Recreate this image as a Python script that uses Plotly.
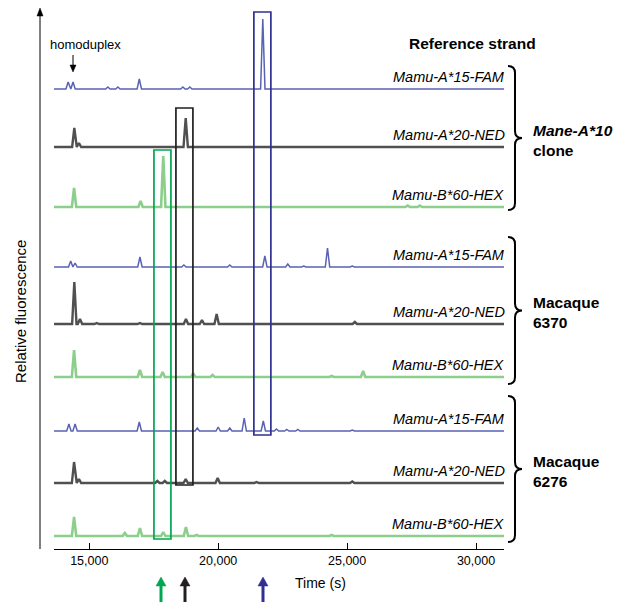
import plotly.graph_objects as go

# ---------------- data (peak apex times in s, peak heights in relative units) ----------------
clone_fam_t = [14180, 14370, 15720, 16110, 16940, 18630, 18900, 21730]
clone_fam_h = [7, 7, 2, 2, 10, 2, 2, 70]
clone_ned_t = [14420, 14600, 18740]
clone_ned_h = [19, 4, 29]
clone_hex_t = [14410, 16990, 17870, 27350, 27820]
clone_hex_h = [19, 6, 51, 1.5, 1.5]

m6370_fam_t = [14280, 14450, 16965, 18670, 20450, 21810, 22700, 23320, 24240, 25200]
m6370_fam_h = [6, 4, 10, 2, 2, 11, 3, 1, 19, 1]
m6370_ned_t = [14420, 14640, 15290, 16965, 18750, 19370, 19940, 25300]
m6370_ned_h = [42, 5, 1, 1, 5, 4, 10, 2]
m6370_hex_t = [14410, 16965, 17845, 19030, 19780, 24400, 25620]
m6370_hex_h = [27, 7, 5, 4, 2, 1, 6]

m6276_fam_t = [14210, 14450, 16940, 19190, 20000, 20450, 21010, 21750, 22260, 22660, 23090, 25200]
m6276_fam_h = [7, 7, 9, 3, 4, 3, 13, 10, 2, 1.5, 1.5, 1]
m6276_ned_t = [14410, 14600, 17640, 17930, 18740, 19980, 21490, 25200]
m6276_ned_h = [21, 4, 2, 2, 4, 5, 1, 1.5]
m6276_hex_t = [14410, 16380, 16965, 17870, 18750, 19160, 24400]
m6276_hex_h = [19, 3, 8, 4, 9, 1, 1]

trace_labels = ["Mamu-A*15-FAM", "Mamu-A*20-NED", "Mamu-B*60-HEX"] * 3
group_labels = ["<b><i>Mane-A*10</i></b><br><b>clone</b>", "<b>Macaque</b><br><b>6370</b>", "<b>Macaque</b><br><b>6276</b>"]
tick_vals = [15000, 20000, 25000, 30000]
tick_text = ["15,000", "20,000", "25,000", "30,000"]

# ---------------- layout constants ----------------
W, H = 629, 602
L, R, T, B = 54, 125, 0, 53
PW, PH = W - L - R, H - T - B
XMIN, XMAX = 13632, 31085
FONT = "Liberation Sans, Arial, sans-serif"

def px(x):
    return (x - L) / PW

def py(y):
    return (H - B - y) / PH

peaks_t = [clone_fam_t, clone_ned_t, clone_hex_t, m6370_fam_t, m6370_ned_t, m6370_hex_t,
           m6276_fam_t, m6276_ned_t, m6276_hex_t]
peaks_h = [clone_fam_h, clone_ned_h, clone_hex_h, m6370_fam_h, m6370_ned_h, m6370_hex_h,
           m6276_fam_h, m6276_ned_h, m6276_hex_h]
offsets = [460, 402, 342, 282, 225, 172, 118, 66, 13]
styles = [dict(color="#5a62b4", width=1.5), dict(color="#505050", width=2.4), dict(color="#8ccf8c", width=2.6)] * 3
HALF = 85  # half-width of a drawn peak (s)

fig = go.Figure()
for tt, hh, base, st in zip(peaks_t, peaks_h, offsets, styles):
    xs, ys = [XMIN], [base]
    for t, h in sorted(zip(tt, hh)):
        xs += [t - HALF, t, t + HALF]
        ys += [base, base + h, base]
    xs.append(XMAX)
    ys.append(base)
    fig.add_trace(go.Scatter(x=xs, y=ys, mode="lines", line=st, hoverinfo="skip", showlegend=False))

shapes = []
# highlight boxes
boxes = [(21384, 22043, 537, 114, "#2e3192"), (18361, 19020, 441, 64, "#231f20"), (17508, 18167, 399, 10, "#00a651")]
for x0, x1, y0, y1, c in boxes:
    shapes.append(dict(type="rect", xref="x", yref="y", x0=x0, x1=x1, y0=y0, y1=y1,
                       line=dict(color=c, width=1.7)))

def vline_arrow_up(x, ytail, yhead, color, lw, hw, hl):
    s = [dict(type="line", xref="paper", yref="paper", x0=px(x), x1=px(x), y0=py(ytail), y1=py(yhead + hl - 1),
              line=dict(color=color, width=lw))]
    path = f"M {px(x-hw)},{py(yhead+hl)} L {px(x+hw)},{py(yhead+hl)} L {px(x)},{py(yhead)} Z"
    s.append(dict(type="path", xref="paper", yref="paper", path=path, fillcolor=color, line=dict(color=color, width=0.5)))
    return s

# y axis arrow
shapes += vline_arrow_up(40, 549, 8, "#000000", 1, 3, 8)
# bottom arrows
shapes += vline_arrow_up(161, 605, 577, "#00a651", 3, 5, 9)
shapes += vline_arrow_up(185, 605, 577, "#231f20", 3, 5, 9)
shapes += vline_arrow_up(263, 605, 577, "#2e3192", 3, 5, 9)
# homoduplex arrow (down)
shapes.append(dict(type="line", xref="paper", yref="paper", x0=px(73), x1=px(73), y0=py(55), y1=py(66),
                   line=dict(color="#000000", width=1)))
shapes.append(dict(type="path", xref="paper", yref="paper",
                   path=f"M {px(70)},{py(65)} L {px(76)},{py(65)} L {px(73)},{py(72)} Z",
                   fillcolor="#000000", line=dict(color="#000000", width=0.5)))

# braces
def brace(top, bot, x0=508, xm=515, xt=522, r=7):
    mid = (top + bot) / 2
    p = (f"M {px(x0)},{py(top)} Q {px(xm)},{py(top)} {px(xm)},{py(top+r)} "
         f"L {px(xm)},{py(mid-r)} Q {px(xm)},{py(mid)} {px(xt)},{py(mid)} "
         f"Q {px(xm)},{py(mid)} {px(xm)},{py(mid+r)} "
         f"L {px(xm)},{py(bot-r)} Q {px(xm)},{py(bot)} {px(x0)},{py(bot)}")
    return dict(type="path", xref="paper", yref="paper", path=p, line=dict(color="#000000", width=2))

brace_spans = [(66, 210), (237, 384), (396, 542)]
for a, b in brace_spans:
    shapes.append(brace(a, b))

annotations = []
for lab, base in zip(trace_labels, offsets):
    annotations.append(dict(text=f"<i>{lab}</i>", xref="paper", yref="y", x=px(507), y=base + 12,
                            xanchor="right", yanchor="middle", showarrow=False,
                            font=dict(family=FONT, size=14.5, color="#000000")))
for lab, (a, b) in zip(group_labels, brace_spans):
    annotations.append(dict(text=lab, xref="paper", yref="paper", x=px(531), y=py((a + b) / 2 + 2),
                            xanchor="left", yanchor="middle", align="left", showarrow=False,
                            font=dict(family=FONT, size=15.5, color="#000000")))
annotations.append(dict(text="<b>Reference strand</b>", xref="paper", yref="paper", x=px(472), y=py(43),
                        xanchor="center", yanchor="middle", showarrow=False,
                        font=dict(family=FONT, size=15.5, color="#000000")))
annotations.append(dict(text="homoduplex", xref="paper", yref="paper", x=px(85), y=py(44),
                        xanchor="center", yanchor="middle", showarrow=False,
                        font=dict(family=FONT, size=13, color="#000000")))
annotations.append(dict(text="Relative fluorescence", xref="paper", yref="paper", x=px(20), y=py(312),
                        xanchor="center", yanchor="middle", textangle=-90, showarrow=False,
                        font=dict(family=FONT, size=15, color="#000000")))
annotations.append(dict(text="Time (s)", xref="paper", yref="paper", x=px(320), y=py(583),
                        xanchor="center", yanchor="middle", showarrow=False,
                        font=dict(family=FONT, size=14, color="#000000")))

fig.update_layout(
    width=W, height=H, margin=dict(l=L, r=R, t=T, b=B),
    paper_bgcolor="#ffffff", plot_bgcolor="#ffffff",
    font=dict(family=FONT, size=12, color="#000000"),
    xaxis=dict(range=[XMIN, XMAX], tickvals=tick_vals, ticktext=tick_text, ticks="inside", ticklen=6,
               tickcolor="#000000", showline=True, linecolor="#000000", linewidth=1.2, showgrid=False,
               zeroline=False, tickfont=dict(family=FONT, size=12.5, color="#000000"), fixedrange=True),
    yaxis=dict(range=[0, PH], visible=False, fixedrange=True),
    shapes=shapes, annotations=annotations,
)

fig.write_html("out.html", config={"displayModeBar": False},
               post_script="document.body.style.margin='0';document.body.style.padding='0';")
